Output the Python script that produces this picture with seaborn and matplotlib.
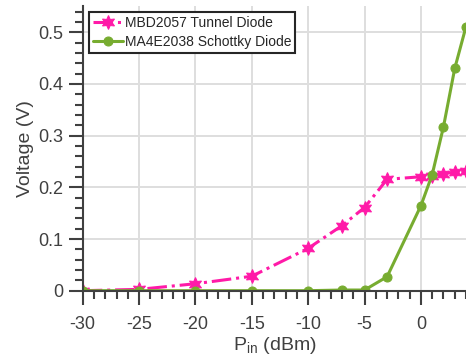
import matplotlib
matplotlib.use("Agg")
import matplotlib.pyplot as plt
import seaborn as sns
import pandas as pd
from matplotlib.ticker import MultipleLocator

pin = [-30, -25, -20, -15, -10, -7, -5, -3, 0, 1, 2, 3, 4]
tunnel = [0.0, 0.0026, 0.0135, 0.028, 0.082, 0.126, 0.161, 0.2155, 0.2205, 0.222, 0.2257, 0.230, 0.232]
schottky = [0.0, 0.0, 0.0, 0.0, 0.0, 0.0013, 0.0013, 0.027, 0.1645, 0.2245, 0.317, 0.43, 0.511]
labels = ["MBD2057 Tunnel Diode", "MA4E2038 Schottky Diode"]

df = pd.DataFrame({"pin": pin, "tunnel": tunnel, "schottky": schottky})

sns.set_style("whitegrid")
plt.rcParams["font.family"] = ["Liberation Sans", "DejaVu Sans"]
plt.rcParams["mathtext.default"] = "regular"
plt.rcParams["axes.unicode_minus"] = False

pink = "#FF1AA8"
green = "#77AC30"
axcol = "#404040"

fig = plt.figure(figsize=(4.66, 3.6), dpi=100)
ax = fig.add_axes([0.1775, 0.1925, 0.8225, 0.7895])

sns.lineplot(data=df, x="pin", y="tunnel", ax=ax, color=pink, linestyle="-.",
             lw=2.2, marker=(6, 1, 0), markersize=10, markeredgecolor=pink,
             markerfacecolor=pink, label=labels[0])
sns.lineplot(data=df, x="pin", y="schottky", ax=ax, color=green, linestyle="-",
             lw=2.2, marker="o", markersize=6.5, markeredgecolor=green,
             markerfacecolor=green, label=labels[1])

ax.set_xlim(-30, 4.0)
ax.set_ylim(0, 0.55)
ax.xaxis.set_major_locator(MultipleLocator(5))
ax.xaxis.set_minor_locator(MultipleLocator(1))
ax.yaxis.set_major_locator(MultipleLocator(0.1))
ax.yaxis.set_minor_locator(MultipleLocator(0.02))
ax.set_yticks([0, 0.1, 0.2, 0.3, 0.4, 0.5])
ax.set_yticklabels(["0", "0.1", "0.2", "0.3", "0.4", "0.5"])

ax.grid(True, which="major", color="#dedede", lw=1.4)
ax.set_axisbelow(True)
for s in ["top", "right"]:
    ax.spines[s].set_visible(False)
for s in ["left", "bottom"]:
    ax.spines[s].set_color(axcol)
    ax.spines[s].set_linewidth(1.5)

ax.tick_params(axis="x", which="major", pad=8)
ax.tick_params(axis="y", which="major", pad=4)
ax.tick_params(which="major", direction="out", length=10, width=1.5, color=axcol,
               labelsize=13, labelcolor=axcol, left=True, bottom=True)
ax.tick_params(which="minor", direction="out", length=6, width=1.5, color=axcol,
               left=True, bottom=True)

ax.set_xlabel("P$_{in}$ (dBm)", fontsize=14, color=axcol, labelpad=2)
ax.set_ylabel("Voltage (V)", fontsize=14, color=axcol, labelpad=3)

leg = ax.legend(loc="upper left", bbox_to_anchor=(0.01, 0.99), fontsize=10,
                frameon=True, fancybox=False, borderpad=0.25, labelspacing=0.4,
                handlelength=2.2, handletextpad=0.1, borderaxespad=0.2)
leg.get_frame().set_edgecolor("#262626")
leg.get_frame().set_linewidth(1.5)
leg.get_frame().set_alpha(1)
for t in leg.get_texts():
    t.set_color("#262626")

fig.savefig("out.png", dpi=100)
